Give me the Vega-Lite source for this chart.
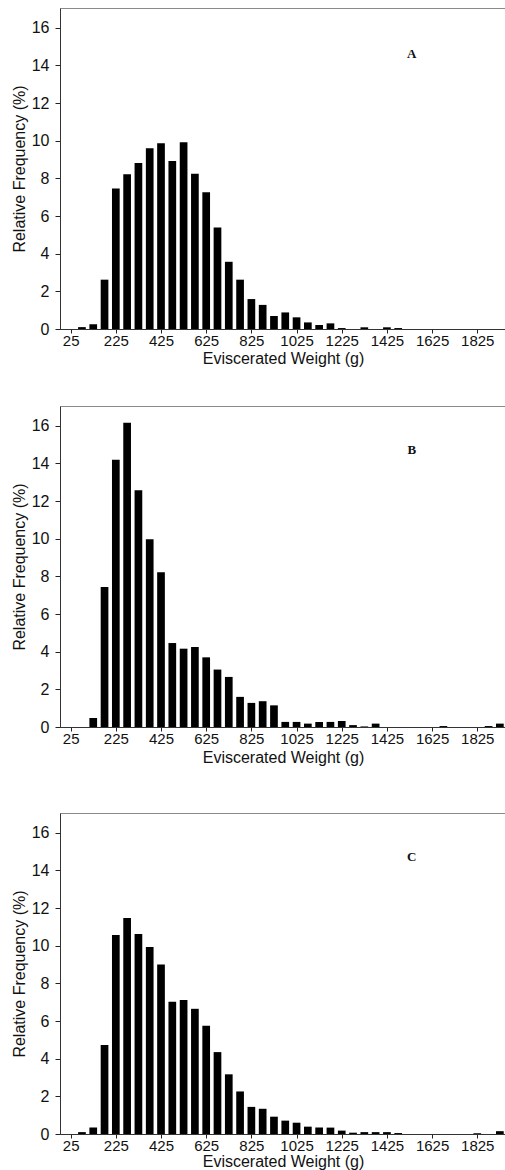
{
  "$schema": "https://vega.github.io/schema/vega-lite/v6.json",
  "padding": {"left": 10, "top": 7, "right": 0, "bottom": 0},
  "background": "white",
  "config": {
    "font": "Liberation Sans",
    "view": {"stroke": "#8a8a8a", "strokeWidth": 1},
    "axis": {
      "grid": false,
      "domainColor": "#333",
      "tickColor": "#222",
      "labelColor": "#111",
      "titleColor": "#111",
      "labelFont": "Liberation Sans",
      "titleFont": "Liberation Sans",
      "titleFontWeight": "normal",
      "titleFontSize": 16
    },
    "axisX": {"tickSize": 4, "labelPadding": 0, "labelFontSize": 15, "titlePadding": 2, "labelFlush": false, "labelOverlap": false},
    "axisY": {"tickSize": 5, "labelPadding": 6, "labelFontSize": 16, "titlePadding": 4}
  },
  "datasets": {
    "histA": [
      {"w": 25, "f": 0}, {"w": 75, "f": 0.1}, {"w": 125, "f": 0.25}, {"w": 175, "f": 2.62},
      {"w": 225, "f": 7.46}, {"w": 275, "f": 8.22}, {"w": 325, "f": 8.82}, {"w": 375, "f": 9.6},
      {"w": 425, "f": 9.87}, {"w": 475, "f": 8.93}, {"w": 525, "f": 9.92}, {"w": 575, "f": 8.24},
      {"w": 625, "f": 7.27}, {"w": 675, "f": 5.39}, {"w": 725, "f": 3.57}, {"w": 775, "f": 2.62},
      {"w": 825, "f": 1.59}, {"w": 875, "f": 1.28}, {"w": 925, "f": 0.69}, {"w": 975, "f": 0.88},
      {"w": 1025, "f": 0.62}, {"w": 1075, "f": 0.35}, {"w": 1125, "f": 0.21}, {"w": 1175, "f": 0.3},
      {"w": 1225, "f": 0.05}, {"w": 1275, "f": 0}, {"w": 1325, "f": 0.09}, {"w": 1375, "f": 0},
      {"w": 1425, "f": 0.09}, {"w": 1475, "f": 0.05}, {"w": 1525, "f": 0}, {"w": 1575, "f": 0},
      {"w": 1625, "f": 0}, {"w": 1675, "f": 0}, {"w": 1725, "f": 0}, {"w": 1775, "f": 0},
      {"w": 1825, "f": 0}, {"w": 1875, "f": 0}, {"w": 1925, "f": 0}
    ],
    "histB": [
      {"w": 25, "f": 0}, {"w": 75, "f": 0}, {"w": 125, "f": 0.48}, {"w": 175, "f": 7.44},
      {"w": 225, "f": 14.2}, {"w": 275, "f": 16.16}, {"w": 325, "f": 12.58}, {"w": 375, "f": 9.97},
      {"w": 425, "f": 8.22}, {"w": 475, "f": 4.46}, {"w": 525, "f": 4.16}, {"w": 575, "f": 4.25},
      {"w": 625, "f": 3.7}, {"w": 675, "f": 3.05}, {"w": 725, "f": 2.66}, {"w": 775, "f": 1.6},
      {"w": 825, "f": 1.28}, {"w": 875, "f": 1.37}, {"w": 925, "f": 1.15}, {"w": 975, "f": 0.27},
      {"w": 1025, "f": 0.27}, {"w": 1075, "f": 0.18}, {"w": 1125, "f": 0.27}, {"w": 1175, "f": 0.27},
      {"w": 1225, "f": 0.32}, {"w": 1275, "f": 0.1}, {"w": 1325, "f": 0.03}, {"w": 1375, "f": 0.18},
      {"w": 1425, "f": 0}, {"w": 1475, "f": 0}, {"w": 1525, "f": 0}, {"w": 1575, "f": 0},
      {"w": 1625, "f": 0}, {"w": 1675, "f": 0.05}, {"w": 1725, "f": 0}, {"w": 1775, "f": 0},
      {"w": 1825, "f": 0}, {"w": 1875, "f": 0.05}, {"w": 1925, "f": 0.18}
    ],
    "histC": [
      {"w": 25, "f": 0}, {"w": 75, "f": 0.1}, {"w": 125, "f": 0.34}, {"w": 175, "f": 4.73},
      {"w": 225, "f": 10.57}, {"w": 275, "f": 11.47}, {"w": 325, "f": 10.62}, {"w": 375, "f": 9.93},
      {"w": 425, "f": 9.0}, {"w": 475, "f": 7.03}, {"w": 525, "f": 7.12}, {"w": 575, "f": 6.65},
      {"w": 625, "f": 5.75}, {"w": 675, "f": 4.35}, {"w": 725, "f": 3.17}, {"w": 775, "f": 2.26},
      {"w": 825, "f": 1.44}, {"w": 875, "f": 1.34}, {"w": 925, "f": 0.92}, {"w": 975, "f": 0.71},
      {"w": 1025, "f": 0.6}, {"w": 1075, "f": 0.39}, {"w": 1125, "f": 0.34}, {"w": 1175, "f": 0.34},
      {"w": 1225, "f": 0.18}, {"w": 1275, "f": 0.07}, {"w": 1325, "f": 0.1}, {"w": 1375, "f": 0.1},
      {"w": 1425, "f": 0.1}, {"w": 1475, "f": 0.05}, {"w": 1525, "f": 0}, {"w": 1575, "f": 0},
      {"w": 1625, "f": 0}, {"w": 1675, "f": 0}, {"w": 1725, "f": 0}, {"w": 1775, "f": 0},
      {"w": 1825, "f": 0.04}, {"w": 1875, "f": 0}, {"w": 1925, "f": 0.15}
    ]
  },
  "spacing": 38,
  "vconcat": [
    {
      "width": 446,
      "height": 321,
      "layer": [
        {
          "data": {"name": "histA"},
          "mark": {"type": "bar", "color": "#000", "width": 7.7, "clip": true},
          "encoding": {
            "x": {"field": "w", "type": "quantitative", "scale": {"domain": [0, 1930], "nice": false, "zero": false},
                  "axis": {"title": "Eviscerated Weight (g)", "values": [25, 125, 225, 325, 425, 525, 625, 725, 825, 925, 1025, 1125, 1225, 1325, 1425, 1525, 1625, 1725, 1825, 1925],
                           "labelExpr": "(datum.value - 25) % 200 == 0 ? datum.label : ''", "format": "d"}},
            "y": {"field": "f", "type": "quantitative", "scale": {"domain": [0, 17.05], "nice": false},
                  "axis": {"title": "Relative Frequency (%)", "values": [0, 2, 4, 6, 8, 10, 12, 14, 16]}}
          }
        },
        {
          "data": {"values": [{"letter": "A"}]},
          "mark": {"type": "text", "font": "Liberation Serif", "fontWeight": "bold", "fontSize": 13, "color": "#111", "baseline": "middle"},
          "encoding": {
            "x": {"datum": 1535, "type": "quantitative"},
            "y": {"datum": 14.6, "type": "quantitative"},
            "text": {"field": "letter"}
          }
        }
      ]
    },
    {
      "spacing": 46,
      "vconcat": [
        {
          "width": 446,
          "height": 321,
          "layer": [
            {
              "data": {"name": "histB"},
              "mark": {"type": "bar", "color": "#000", "width": 7.7, "clip": true},
              "encoding": {
                "x": {"field": "w", "type": "quantitative", "scale": {"domain": [0, 1930], "nice": false, "zero": false},
                      "axis": {"title": "Eviscerated Weight (g)", "titlePadding": 3, "values": [25, 125, 225, 325, 425, 525, 625, 725, 825, 925, 1025, 1125, 1225, 1325, 1425, 1525, 1625, 1725, 1825, 1925],
                               "labelExpr": "(datum.value - 25) % 200 == 0 ? datum.label : ''", "format": "d"}},
                "y": {"field": "f", "type": "quantitative", "scale": {"domain": [0, 17.05], "nice": false},
                      "axis": {"title": "Relative Frequency (%)", "values": [0, 2, 4, 6, 8, 10, 12, 14, 16]}}
              }
            },
            {
              "data": {"values": [{"letter": "B"}]},
              "mark": {"type": "text", "font": "Liberation Serif", "fontWeight": "bold", "fontSize": 13, "color": "#111", "baseline": "middle"},
              "encoding": {
                "x": {"datum": 1535, "type": "quantitative"},
                "y": {"datum": 14.7, "type": "quantitative"},
                "text": {"field": "letter"}
              }
            }
          ]
        },
        {
          "width": 446,
          "height": 321,
          "layer": [
            {
              "data": {"name": "histC"},
              "mark": {"type": "bar", "color": "#000", "width": 7.7, "clip": true},
              "encoding": {
                "x": {"field": "w", "type": "quantitative", "scale": {"domain": [0, 1930], "nice": false, "zero": false},
                      "axis": {"title": "Eviscerated Weight (g)", "titlePadding": 0, "values": [25, 125, 225, 325, 425, 525, 625, 725, 825, 925, 1025, 1125, 1225, 1325, 1425, 1525, 1625, 1725, 1825, 1925],
                               "labelExpr": "(datum.value - 25) % 200 == 0 ? datum.label : ''", "format": "d"}},
                "y": {"field": "f", "type": "quantitative", "scale": {"domain": [0, 17.05], "nice": false},
                      "axis": {"title": "Relative Frequency (%)", "values": [0, 2, 4, 6, 8, 10, 12, 14, 16]}}
              }
            },
            {
              "data": {"values": [{"letter": "C"}]},
              "mark": {"type": "text", "font": "Liberation Serif", "fontWeight": "bold", "fontSize": 13, "color": "#111", "baseline": "middle"},
              "encoding": {
                "x": {"datum": 1535, "type": "quantitative"},
                "y": {"datum": 14.7, "type": "quantitative"},
                "text": {"field": "letter"}
              }
            }
          ]
        }
      ]
    }
  ]
}
